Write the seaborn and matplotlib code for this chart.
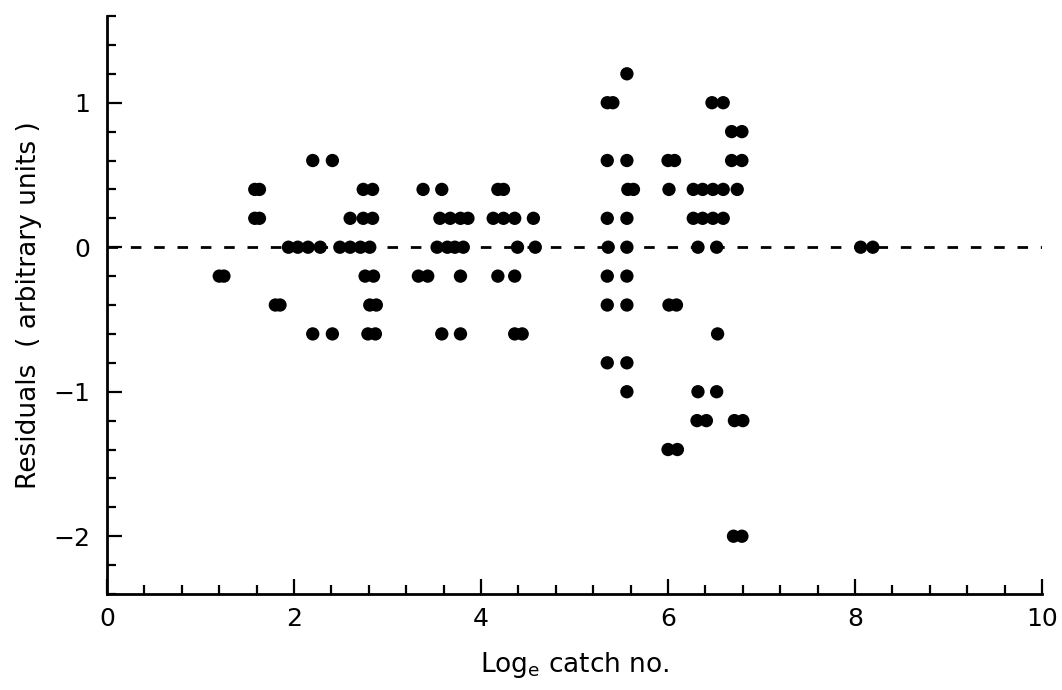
import matplotlib
matplotlib.use("Agg")
import matplotlib.pyplot as plt
from matplotlib.ticker import MultipleLocator, FixedLocator
import pandas as pd
import seaborn as sns

# Residuals against log_e catch number, grouped by residual level
log_catch = [
    1.20, 1.25,                                   # -0.2
    1.58, 1.63, 1.58, 1.63,                       # 0.4, 0.2
    1.80, 1.85,                                   # -0.4
    2.20, 2.41, 2.20, 2.41,                       # 0.6, -0.6
    1.94, 2.04, 2.15, 2.28, 2.49, 2.60, 2.71, 2.81,  # 0
    2.60, 2.74, 2.84,                             # 0.2
    2.74, 2.84,                                   # 0.4
    2.76, 2.85,                                   # -0.2
    2.81, 2.88,                                   # -0.4
    2.79, 2.87,                                   # -0.6
    3.38, 3.58,                                   # 0.4
    3.56, 3.67, 3.78, 3.86,                       # 0.2
    3.53, 3.64, 3.72, 3.81,                       # 0
    3.33, 3.43, 3.78,                             # -0.2
    3.58, 3.78,                                   # -0.6
    4.18, 4.24,                                   # 0.4
    4.13, 4.24, 4.36, 4.56,                       # 0.2
    4.39, 4.58,                                   # 0
    4.18, 4.36,                                   # -0.2
    4.36, 4.44,                                   # -0.6
    5.56,                                         # 1.2
    5.35, 5.41, 6.47, 6.59,                       # 1.0
    6.68, 6.79,                                   # 0.8
    5.35, 5.56, 6.00, 6.07, 6.68, 6.79,           # 0.6
    5.57, 5.63, 6.01, 6.27, 6.37, 6.48, 6.59, 6.74,  # 0.4
    5.35, 5.56, 6.27, 6.37, 6.48, 6.59,           # 0.2
    5.36, 5.56, 6.32, 6.52,                       # 0
    5.35, 5.56,                                   # -0.2
    5.35, 5.56, 6.01, 6.09,                       # -0.4
    6.53,                                         # -0.6
    5.35, 5.56,                                   # -0.8
    5.56, 6.32, 6.52,                             # -1.0
    6.31, 6.41, 6.71, 6.80,                       # -1.2
    6.00, 6.10,                                   # -1.4
    6.70, 6.79,                                   # -2.0
    8.06, 8.19,                                   # 0
]
residual = (
    [-0.2] * 2
    + [0.4] * 2 + [0.2] * 2
    + [-0.4] * 2
    + [0.6] * 2 + [-0.6] * 2
    + [0.0] * 8
    + [0.2] * 3
    + [0.4] * 2
    + [-0.2] * 2
    + [-0.4] * 2
    + [-0.6] * 2
    + [0.4] * 2
    + [0.2] * 4
    + [0.0] * 4
    + [-0.2] * 3
    + [-0.6] * 2
    + [0.4] * 2
    + [0.2] * 4
    + [0.0] * 2
    + [-0.2] * 2
    + [-0.6] * 2
    + [1.2] * 1
    + [1.0] * 4
    + [0.8] * 2
    + [0.6] * 6
    + [0.4] * 8
    + [0.2] * 6
    + [0.0] * 4
    + [-0.2] * 2
    + [-0.4] * 4
    + [-0.6] * 1
    + [-0.8] * 2
    + [-1.0] * 3
    + [-1.2] * 4
    + [-1.4] * 2
    + [-2.0] * 2
    + [0.0] * 2
)

x_major = [0, 2, 4, 6, 8, 10]
y_major = [-2, -1, 0, 1]
y_tick_labels = ["\u22122", "\u22121", "0", "1"]

df = pd.DataFrame({"log_catch": log_catch, "residual": residual})

sns.set_style("ticks")
plt.rcParams["font.family"] = ["DejaVu Sans"]
plt.rcParams["text.color"] = "black"
plt.rcParams["axes.labelcolor"] = "black"

fig = plt.figure(figsize=(10.62, 6.90), dpi=100)
ax = fig.add_axes([0.1008, 0.1391, 0.8804, 0.8377])

ax.axhline(0, color="black", lw=2.0, dashes=(3.8, 4.6), zorder=1)
sns.scatterplot(data=df, x="log_catch", y="residual", ax=ax,
                color="black", s=92, linewidth=0, edgecolor="none",
                zorder=3, legend=False)

ax.set_xlim(0, 10)
ax.set_ylim(-2.4, 1.6)

ax.xaxis.set_major_locator(FixedLocator(x_major))
ax.xaxis.set_minor_locator(MultipleLocator(0.4))
ax.yaxis.set_major_locator(FixedLocator(y_major))
ax.yaxis.set_minor_locator(MultipleLocator(0.2))
ax.set_yticklabels(y_tick_labels)

ax.tick_params(which="both", direction="in", color="black", width=1.6,
               labelsize=18, labelcolor="black")
ax.tick_params(which="major", length=11)
ax.tick_params(which="minor", length=6.5)
ax.tick_params(axis="x", which="major", pad=9)
ax.tick_params(axis="y", which="major", pad=12)

for side in ("top", "right"):
    ax.spines[side].set_visible(False)
for side in ("left", "bottom"):
    ax.spines[side].set_linewidth(2)
    ax.spines[side].set_color("black")

ax.set_xlabel(r"Log$_{\mathregular{e}}$ catch no.", fontsize=19, labelpad=14)
ax.set_ylabel("Residuals  ( arbitrary units )", fontsize=19, labelpad=8)

fig.savefig("out.png", dpi=100, facecolor="white")
